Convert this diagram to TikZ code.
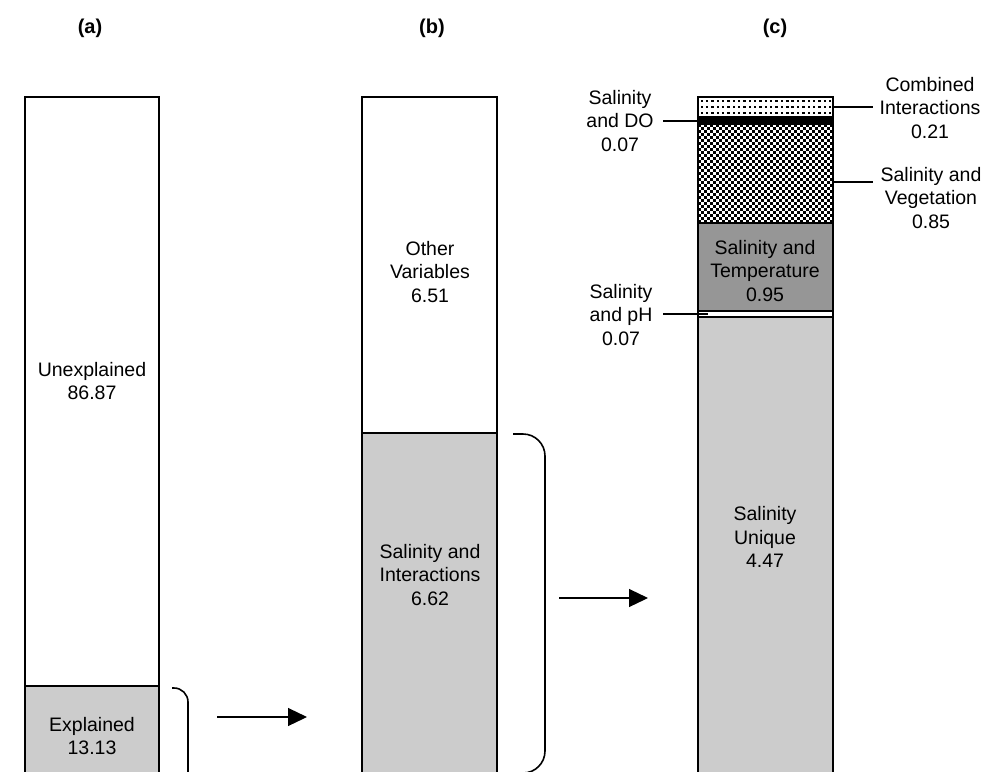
\documentclass[tikz,border=0pt]{standalone}
\usepackage{fontspec}
\setmainfont{Liberation Sans}
\usepackage{xcolor}
\usetikzlibrary{arrows.meta}

\definecolor{lightfill}{RGB}{204,204,204}
\definecolor{darkfill}{RGB}{150,150,150}

\begin{document}
\begin{tikzpicture}[x=1pt,y=-1pt,font=\fontsize{19.5}{23.5}\selectfont,
    txt/.style={align=center,inner sep=0pt},
    head/.style={font=\fontsize{20}{24}\selectfont\bfseries},
    bar/.style={draw,line width=1.2pt},
    leader/.style={line width=1.2pt},
    brace/.style={line width=1.6pt},
    arr/.style={line width=1.2pt,-{Triangle[length=19pt,width=18pt]}}]
            \useasboundingbox (0,0) rectangle (984,771);
            \clip (0,0) rectangle (984,771);

            % column (a)
            \draw[bar,fill=white] (25,97) rectangle (159,790);
            \draw[bar,fill=lightfill] (25,686) rectangle (159,790);

            % column (b)
            \draw[bar,fill=white] (362,97) rectangle (497,790);
            \draw[bar,fill=lightfill] (362,433) rectangle (497,790);

            % column (c)
            \begin{scope}
                \clip (698,97) rectangle (833,117);
                \foreach \i in {0,...,24}
                    \foreach \j in {0,1,2}
                        \fill (700.5+5.35*\i,100+6*\j) rectangle ++(2.4,2.4);
            \end{scope}
            \begin{scope}
                \clip (698,124) rectangle (833,223);
                \foreach \i in {0,2,...,44}
                    \foreach \j in {0,2,...,32}
                        \fill (698+3*\i,124+3*\j) rectangle ++(3.1,3.1);
                \foreach \i in {1,3,...,45}
                    \foreach \j in {1,3,...,33}
                        \fill (698+3*\i,124+3*\j) rectangle ++(3.1,3.1);
            \end{scope}
            \draw[bar] (698,97) rectangle (833,117);
            \draw[bar,fill=black] (698,117) rectangle (833,124);
            \draw[bar] (698,124) rectangle (833,223);
            \draw[bar,fill=darkfill] (698,223) rectangle (833,311);
            \draw[bar,fill=white] (698,311) rectangle (833,317);
            \draw[bar,fill=lightfill] (698,317) rectangle (833,790);

            % brackets
            \draw[brace,rounded corners=14pt] (172,688) -- (188,688) -- (188,800);
            \draw[brace,rounded corners=22pt] (513,434) -- (545,434) -- (545,773) -- (513,773);

            % arrows
            \coordinate (ar1s) at (217,717);
            \coordinate (ar1e) at (307,717);
            \coordinate (ar2s) at (559,598);
            \coordinate (ar2e) at (648,598);
            \draw[arr] (ar1s) -- (ar1e);
            \draw[arr] (ar2s) -- (ar2e);

            \node (ta) at (90,28) [head] {(a)};
            \node (tb) at (432,28) [head] {(b)};
            \node (tc) at (775,28) [head] {(c)};

            \node (unexp) at (92,381) [txt] {Unexplained\\86.87};
            \node (expl) at (92,736) [txt] {Explained\\13.13};
            \node (other) at (430,272) [txt] {Other\\Variables\\6.51};
            \node (salint) at (430,575) [txt] {Salinity and\\Interactions\\6.62};
            \node (temp) at (765,271) [txt] {Salinity and\\Temperature\\0.95};
            \node (uniq) at (765,537) [txt] {Salinity\\Unique\\4.47};

            \node (dolbl) at (620,121) [txt] {Salinity\\and DO\\0.07};
            \node (phlbl) at (621,315) [txt] {Salinity\\and pH\\0.07};
            \node (comb) at (930,108) [txt] {Combined\\Interactions\\0.21};
            \node (veg) at (931,198) [txt] {Salinity and\\Vegetation\\0.85};

            % leader lines
            \coordinate (do1) at (663,121);
            \coordinate (do2) at (698,121);
            \coordinate (ph1) at (663,314);
            \coordinate (ph2) at (708,314);
            \coordinate (cb1) at (833,107);
            \coordinate (cb2) at (873,107);
            \coordinate (vg1) at (833,182);
            \coordinate (vg2) at (873,182);
            \draw[leader] (do1) -- (do2);
            \draw[leader] (ph1) -- (ph2);
            \draw[leader] (cb1) -- (cb2);
            \draw[leader] (vg1) -- (vg2);
        \end{tikzpicture}
\end{document}
